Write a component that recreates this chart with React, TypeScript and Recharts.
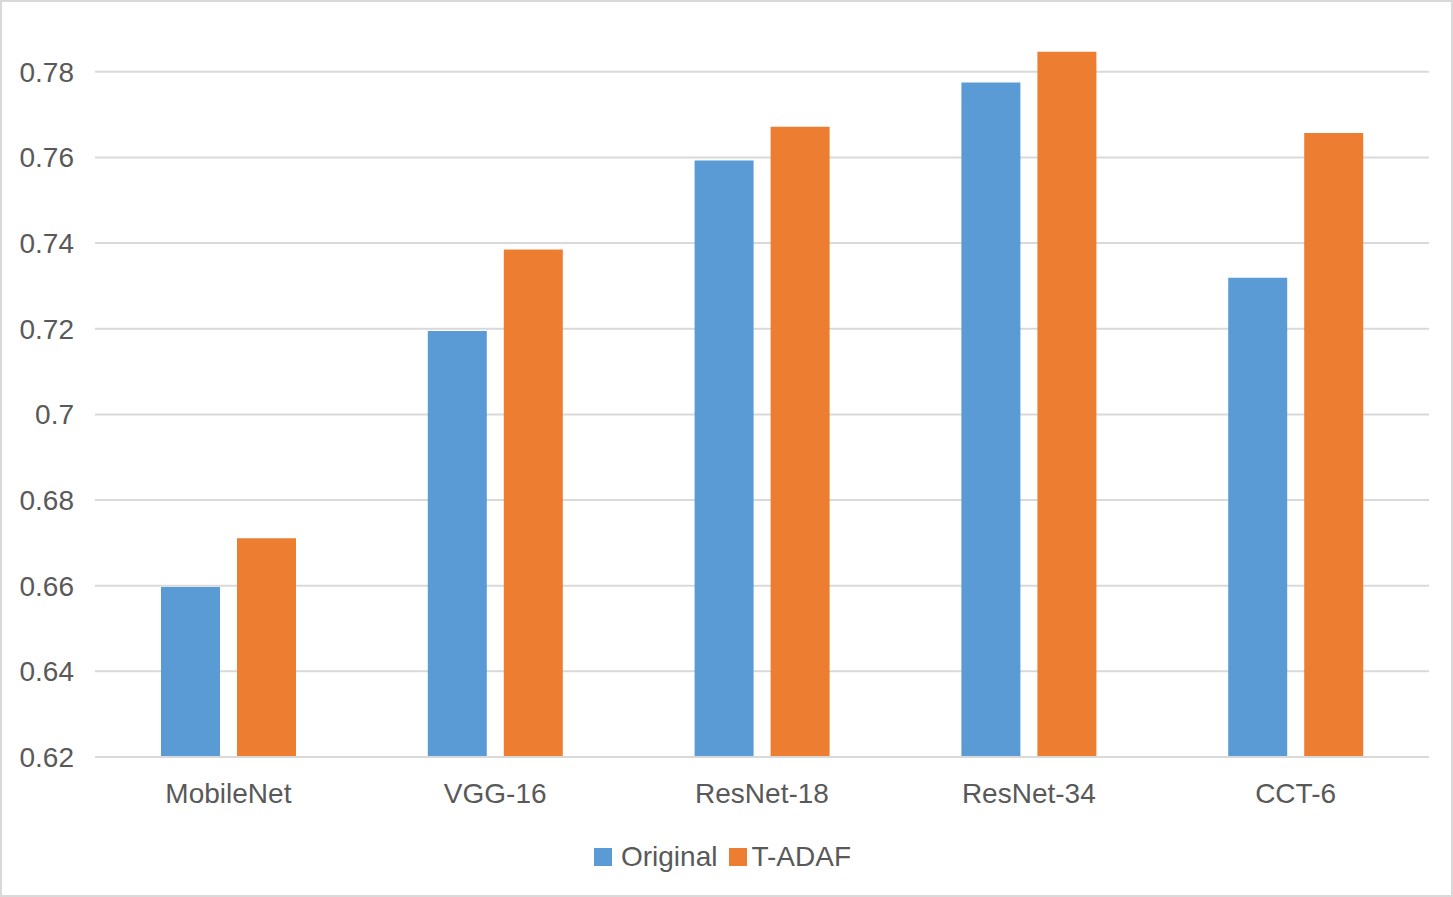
import React from 'react';
import { BarChart, Bar, XAxis, YAxis, CartesianGrid, Legend } from 'recharts';

const models = ['MobileNet', 'VGG-16', 'ResNet-18', 'ResNet-34', 'CCT-6'];
const original = [0.6597, 0.7195, 0.7593, 0.7775, 0.7319];
const tAdaf = [0.6711, 0.7385, 0.7672, 0.7847, 0.7657];
const yTicks = [0.62, 0.64, 0.66, 0.68, 0.7, 0.72, 0.74, 0.76, 0.78];

const BLUE = '#5B9BD5';
const ORANGE = '#ED7D31';
const TEXT = '#595959';
const FONT = '"Liberation Sans", Arial, Helvetica, sans-serif';

const data = models.map((m, i) => ({ name: m, original: original[i], tAdaf: tAdaf[i] }));

const LegendRow = () => (
    <div style={{ height: 80, display: 'flex', alignItems: 'center', justifyContent: 'center', fontFamily: FONT, fontSize: 28, color: TEXT, paddingRight: 8, boxSizing: 'border-box' }}>
        <span style={{ width: 18, height: 18, background: BLUE, display: 'inline-block', marginRight: 9 }} />
        <span style={{ marginRight: 12 }}>Original</span>
        <span style={{ width: 18, height: 18, background: ORANGE, display: 'inline-block', marginRight: 4 }} />
        <span>T-ADAF</span>
    </div>
);

// only draw grid lines at the labelled ticks (no line at the top of the plot)
const gridLines = (props: any) => {
    const scale = props?.yAxis?.scale;
    if (typeof scale === 'function') return yTicks.map((t) => scale(t));
    if (scale && typeof scale.map === 'function') return yTicks.map((t) => scale.map(t));
    return [];
};

const App: React.FC = () => {
    return (
        <div style={{ position: 'absolute', left: 0, top: 0, width: 1453, height: 897, background: '#fff' }}>
            <BarChart
                width={1453}
                height={897}
                data={data}
                margin={{ top: 29, right: 24, left: 0, bottom: 0 }}
                barSize={59}
                barGap={17}
            >
                <CartesianGrid vertical={false} stroke="#d9d9d9" strokeWidth={2} horizontalCoordinatesGenerator={gridLines} />
                <XAxis
                    dataKey="name"
                    height={60}
                    tickSize={0}
                    tickMargin={26}
                    axisLine={{ stroke: '#d9d9d9', strokeWidth: 2 }}
                    tick={{ fill: TEXT, fontSize: 28, fontFamily: FONT }}
                />
                <YAxis
                    width={95}
                    domain={[0.62, 0.79]}
                    ticks={yTicks}
                    allowDataOverflow
                    tickSize={0}
                    tickMargin={21}
                    axisLine={false}
                    tickFormatter={(v: number) => String(Number(v.toFixed(2)))}
                    tick={{ fill: TEXT, fontSize: 28, fontFamily: FONT }}
                />
                <Legend
                    verticalAlign="bottom"
                    content={() => <LegendRow />}
                    wrapperStyle={{ left: 0, width: 1453 }}
                />
                <Bar dataKey="original" name="Original" fill={BLUE} isAnimationActive={false} />
                <Bar dataKey="tAdaf" name="T-ADAF" fill={ORANGE} isAnimationActive={false} />
            </BarChart>
            <div style={{ position: 'absolute', left: 0, top: 0, width: 1453, height: 897, boxSizing: 'border-box', border: '2px solid #d9d9d9', pointerEvents: 'none' }} />
        </div>
    );
};

export default App;
